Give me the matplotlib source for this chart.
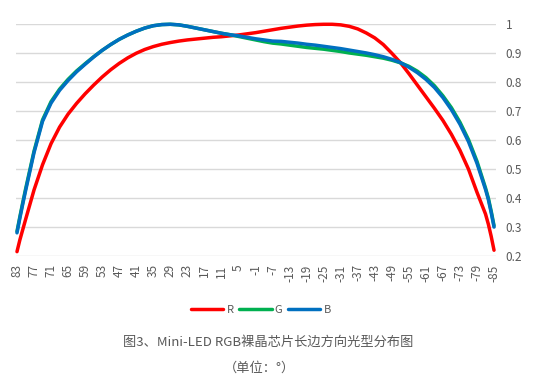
import matplotlib
matplotlib.use("Agg")
import matplotlib.pyplot as plt
from matplotlib.ticker import FuncFormatter

plt.rcParams['font.family'] = ['Noto Sans CJK SC', 'DejaVu Sans']

# angles (deg), denser near the steep ends
angles = [83, 82, 81, 80, 77, 74, 71, 68, 65, 62, 59, 56, 53, 50, 47, 44, 41, 38, 35,
          32, 29, 26, 23, 20, 17, 14, 11, 8, 5, 2, -1, -4, -7, -10, -13, -16, -19, -22,
          -25, -28, -31, -34, -37, -40, -43, -46, -49, -52, -55, -58, -61, -64, -67,
          -70, -73, -76, -79, -82, -83, -84, -85]

red = [0.215, 0.255, 0.29, 0.325, 0.428, 0.515, 0.588, 0.645, 0.69, 0.727, 0.76, 0.79,
       0.818, 0.843, 0.865, 0.884, 0.9, 0.913, 0.923, 0.931, 0.937, 0.942, 0.946, 0.949,
       0.952, 0.955, 0.957, 0.96, 0.963, 0.967, 0.971, 0.976, 0.981, 0.986, 0.99, 0.994,
       0.997, 0.999, 1.0, 1.0, 0.998, 0.993, 0.984, 0.97, 0.953, 0.93, 0.9, 0.868, 0.83,
       0.79, 0.75, 0.71, 0.668, 0.62, 0.565, 0.50, 0.42, 0.345, 0.31, 0.268, 0.22]

green = [0.285, 0.335, 0.383, 0.43, 0.562, 0.67, 0.733, 0.776, 0.81, 0.839, 0.864, 0.888,
         0.91, 0.93, 0.948, 0.963, 0.976, 0.987, 0.995, 0.999, 1.0, 0.998, 0.993, 0.987,
         0.981, 0.975, 0.969, 0.964, 0.958, 0.952, 0.946, 0.94, 0.935, 0.932, 0.928,
         0.924, 0.92, 0.917, 0.914, 0.91, 0.906, 0.901, 0.897, 0.893, 0.888, 0.883,
         0.876, 0.867, 0.855, 0.838, 0.816, 0.788, 0.753, 0.712, 0.662, 0.602, 0.527,
         0.435, 0.40, 0.355, 0.305]

blue = [0.28, 0.33, 0.378, 0.424, 0.557, 0.665, 0.728, 0.772, 0.806, 0.836, 0.862, 0.887,
        0.91, 0.93, 0.948, 0.963, 0.976, 0.987, 0.995, 0.999, 1.0, 0.998, 0.993, 0.987,
        0.981, 0.975, 0.969, 0.964, 0.96, 0.955, 0.95, 0.946, 0.942, 0.941, 0.938, 0.935,
        0.931, 0.928, 0.924, 0.92, 0.916, 0.911, 0.906, 0.901, 0.895, 0.888, 0.879,
        0.868, 0.852, 0.833, 0.81, 0.782, 0.747, 0.705, 0.655, 0.595, 0.52, 0.43, 0.395,
        0.35, 0.30]

tick_angles = list(range(83, -86, -6))
y_ticks = [0.2, 0.3, 0.4, 0.5, 0.6, 0.7, 0.8, 0.9, 1.0]

text_color = '#595959'

fig = plt.figure(figsize=(5.33, 3.8), dpi=100)
ax = fig.add_axes([0.030, 0.3263, 0.9006, 0.6098])

ax.plot(angles, red, color='#FF0000', lw=2.5, label='R', clip_on=False, solid_capstyle='round')
ax.plot(angles, green, color='#00B050', lw=2.5, label='G', clip_on=False, solid_capstyle='round')
ax.plot(angles, blue, color='#0070C0', lw=2.5, label='B', clip_on=False, solid_capstyle='round')

ax.set_xlim(83.35, -85.7)
ax.set_ylim(0.2, 1.0)
ax.set_xticks(tick_angles)
ax.set_xticklabels([str(a) for a in tick_angles], rotation=90)
ax.set_yticks(y_ticks)
ax.yaxis.set_major_formatter(FuncFormatter(lambda v, p: f"{v:g}"))
ax.yaxis.tick_right()
ax.tick_params(axis='y', length=0, pad=7, labelsize=8.5, labelcolor=text_color)
ax.tick_params(axis='x', length=0, pad=6, labelsize=8.5, labelcolor=text_color)

ax.grid(axis='y', color='#d9d9d9', lw=1)
ax.set_axisbelow(True)
for s in ax.spines.values():
    s.set_visible(False)

fig.legend(loc='center', bbox_to_anchor=(261 / 533, 1 - 310 / 380), ncol=3, frameon=False,
           fontsize=8, labelcolor=text_color, handlelength=2.9, handletextpad=0.3,
           columnspacing=0.5)

fig.text(268 / 533, 1 - 342 / 380, '图3、Mini-LED RGB裸晶芯片长边方向光型分布图',
         ha='center', va='center', fontsize=9.5, color=text_color)
fig.text(259 / 533, 1 - 368 / 380, '（单位：°）', ha='center', va='center',
         fontsize=9.5, color=text_color)

fig.savefig('out.png', dpi=100)
